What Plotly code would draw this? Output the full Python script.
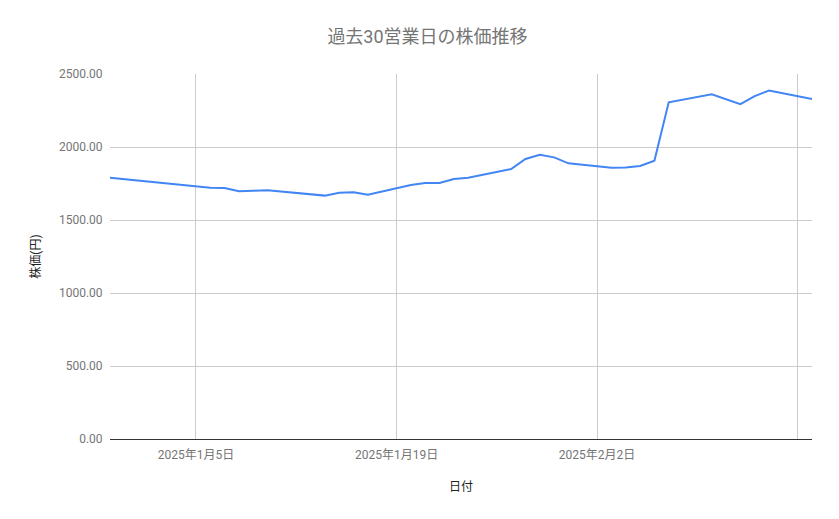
import plotly.graph_objects as go

dates = ["2024-12-30", "2025-01-06", "2025-01-07", "2025-01-08", "2025-01-09", "2025-01-10",
         "2025-01-14", "2025-01-15", "2025-01-16", "2025-01-17",
         "2025-01-20", "2025-01-21", "2025-01-22", "2025-01-23", "2025-01-24",
         "2025-01-27", "2025-01-28", "2025-01-29", "2025-01-30", "2025-01-31",
         "2025-02-03", "2025-02-04", "2025-02-05", "2025-02-06", "2025-02-07",
         "2025-02-10", "2025-02-12", "2025-02-13", "2025-02-14", "2025-02-17"]
prices = [1790, 1721, 1719, 1697, 1701, 1703,
          1667, 1686, 1690, 1673,
          1740, 1753, 1754, 1781, 1790,
          1849, 1918, 1947, 1929, 1888,
          1858, 1859, 1870, 1906, 2306,
          2361, 2294, 2349, 2386, 2329]

x_tickvals = ["2025-01-05", "2025-01-19", "2025-02-02", "2025-02-16"]
x_ticktext = ["2025年1月5日", "2025年1月19日", "2025年2月2日", ""]
y_tickvals = [0, 500, 1000, 1500, 2000, 2500]
y_ticktext = ["0.00", "500.00", "1000.00", "1500.00", "2000.00", "2500.00"]

fig = go.Figure()
fig.add_trace(go.Scatter(x=dates, y=prices, mode="lines",
                         line=dict(color="#4285F4", width=2)))

font_family = "Roboto, 'Noto Sans CJK JP', sans-serif"
fig.update_layout(
    width=839, height=519,
    margin=dict(l=102, r=35, t=66, b=88),
    paper_bgcolor="white", plot_bgcolor="white",
    showlegend=False,
    font=dict(family=font_family, size=12, color="#757575"),
    title=dict(text="過去30営業日の株価推移", x=0.5, xanchor="center", y=0.945, yanchor="middle",
               font=dict(size=18, color="#757575", family=font_family)),
    xaxis=dict(type="date", range=["2024-12-30", "2025-02-17"],
               tickvals=x_tickvals, ticktext=x_ticktext,
               showgrid=True, gridcolor="#cccccc", gridwidth=1,
               showline=False, zeroline=False,
               ticks="outside", ticklen=5, tickcolor="rgba(0,0,0,0)",
               tickfont=dict(size=12, color="#757575"),
               title=dict(text="日付", font=dict(size=12, color="#222222"), standoff=21)),
    yaxis=dict(range=[0, 2500], tickvals=y_tickvals, ticktext=y_ticktext,
               showgrid=True, gridcolor="#cccccc", gridwidth=1,
               zeroline=True, zerolinecolor="#333333", zerolinewidth=1,
               ticks="outside", ticklen=4, tickcolor="rgba(0,0,0,0)",
               tickfont=dict(size=12, color="#757575"),
               title=dict(text="株価(円)", font=dict(size=12, color="#222222"), standoff=15)),
)
fig.write_html("out.html")
